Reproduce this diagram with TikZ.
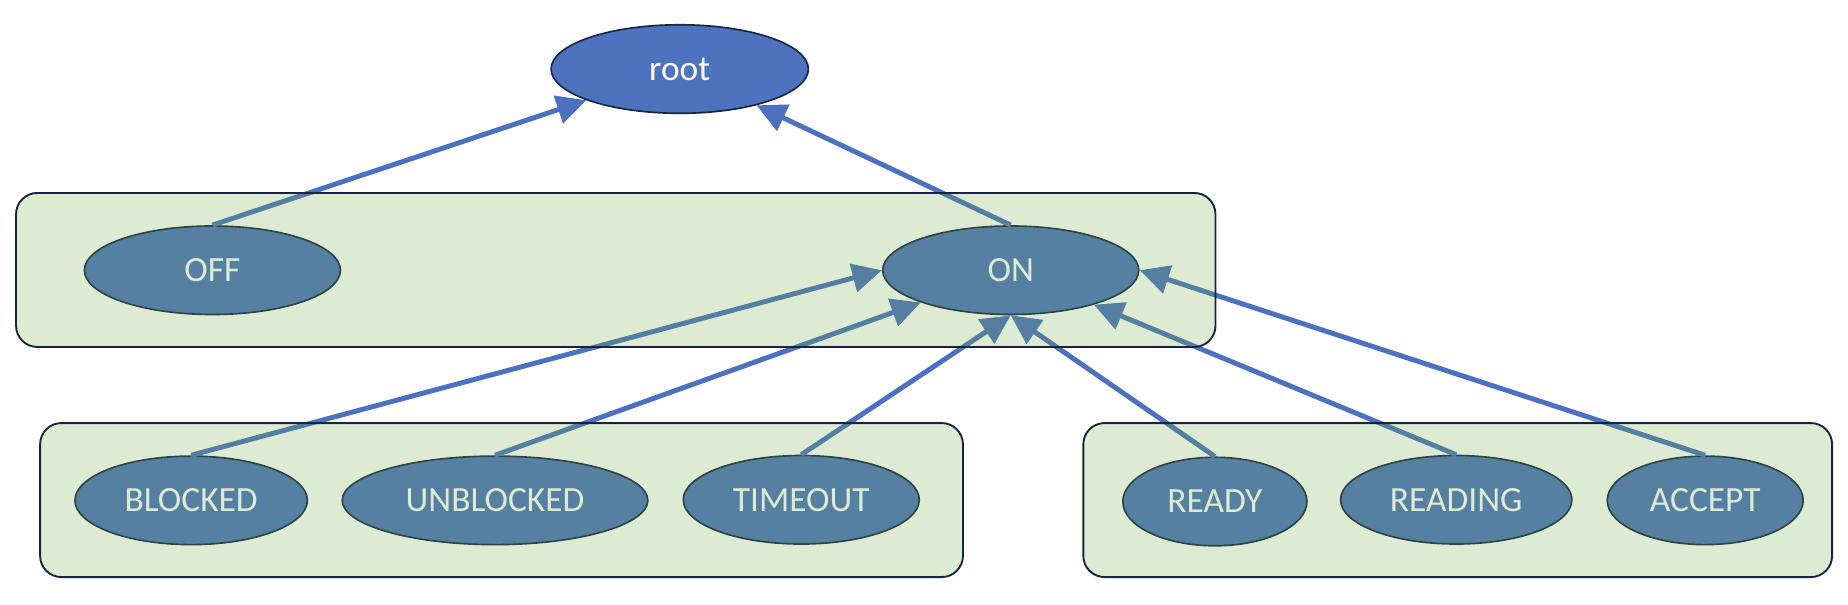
\documentclass[tikz,border=0pt]{standalone}
\usepackage{fontspec}
\setmainfont{Carlito}
\usetikzlibrary{shapes.geometric,arrows.meta}
\definecolor{nodeblue}{RGB}{78,115,190}
\definecolor{edgeblue}{RGB}{76,113,192}
\definecolor{nodeoutline}{RGB}{24,36,68}
\definecolor{boxborder}{RGB}{22,36,66}
\definecolor{boxgreen}{RGB}{112,173,71}
\tikzset{
  state/.style={ellipse, draw=nodeoutline, line width=1.4pt, fill=nodeblue, text=white,
    inner sep=0pt, minimum height=75pt, font=\fontsize{30}{36}\selectfont},
  link/.style={draw=edgeblue, line width=4.2pt, -{Triangle[length=25pt,width=24pt]}},
  groupbox/.style={draw=boxborder, line width=1.6pt, rounded corners=18pt, fill=boxgreen,
    fill opacity=0.24, inner sep=0pt, minimum height=130.5pt}
}
\begin{document}
\begin{tikzpicture}[x=1pt,y=-1pt]
\useasboundingbox (0,0) rectangle (1566,512);
% nodes
\node[state, minimum width=218pt] (root) at (576,58.5) {root};
\node[state, minimum width=217pt] (off) at (180,229) {OFF};
\node[state, minimum width=217pt] (on) at (856.5,229) {ON};
\node[state, minimum width=197pt] (blocked) at (162,424) {BLOCKED};
\node[state, minimum width=259pt] (unblocked) at (419.5,424) {UNBLOCKED};
\node[state, minimum width=200pt] (timeout) at (679,423.5) {TIMEOUT};
\node[state, minimum width=156pt] (ready) at (1029.5,425) {READY};
\node[state, minimum width=196pt] (reading) at (1234,423.5) {READING};
\node[state, minimum width=166pt] (accept) at (1445,424) {ACCEPT};
% connectors
\draw[link] (off.north) -- (root);
\draw[link] (on.north) -- (root);
\draw[link] (blocked.north) -- (on.west);
\draw[link] (unblocked.north) -- (on);
\draw[link] (timeout.north) -- (on.south);
\draw[link] (ready.north) -- (on.south);
\draw[link] (reading.north) -- (on);
\draw[link] (accept.north) -- (on.east);
% group boxes (translucent overlays)
\node[groupbox, minimum width=1016.4pt] (gtop) at (521.8,228.75) {};
\node[groupbox, minimum width=782pt] (gleft) at (425,423.75) {};
\node[groupbox, minimum width=634.5pt] (gright) at (1235.25,423.75) {};
\end{tikzpicture}
\end{document}
